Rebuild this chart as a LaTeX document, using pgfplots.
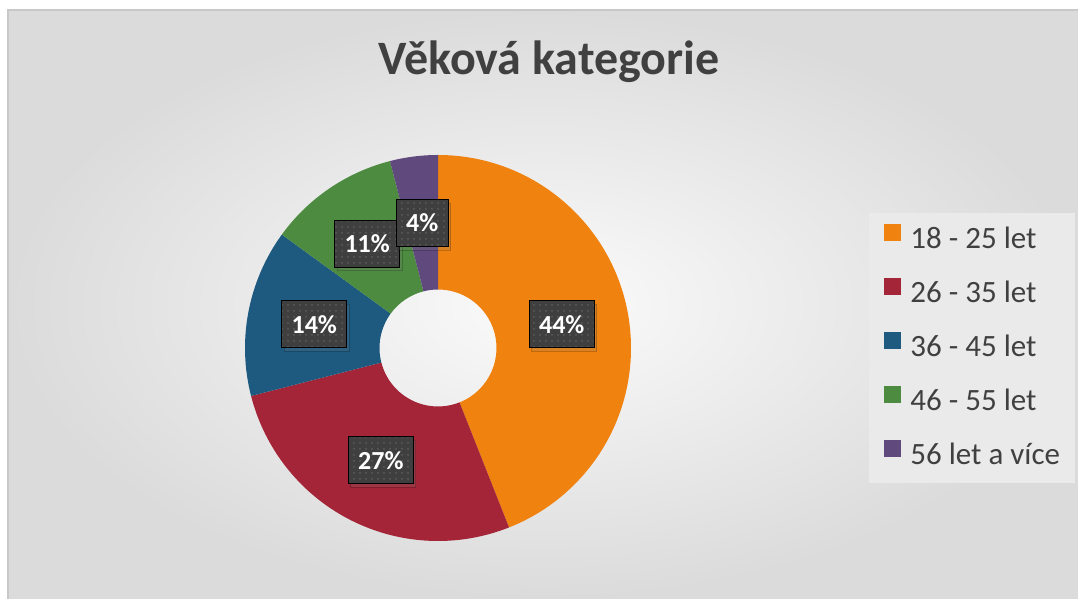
\documentclass[border=0pt]{standalone}
\usepackage{pgfplots}
\pgfplotsset{compat=1.18}
\usepackage{pgfplotstable}
\usepackage{fontspec}
\setmainfont{Carlito}
\usetikzlibrary{patterns,shadows}

\definecolor{c18}{HTML}{F0820F}
\definecolor{c26}{HTML}{A32537}
\definecolor{c36}{HTML}{1E5A80}
\definecolor{c46}{HTML}{4C8B40}
\definecolor{c56}{HTML}{604A7D}
\definecolor{txtgray}{HTML}{404040}
\definecolor{boxgray}{HTML}{3F3F3F}
\definecolor{dotgray}{HTML}{5C5C5C}
\definecolor{legbg}{HTML}{EAEAEA}
\definecolor{bgin}{HTML}{FBFBFB}
\definecolor{bgout}{HTML}{DBDBDB}
\definecolor{bordergray}{HTML}{C8C8C8}

% share of each age group (%), and where its slice starts (cumulative %)
\pgfplotstableread{
value start cls
44 0  a
27 44 b
14 71 c
11 85 d
4  96 e
}\agedata

% one ring slice, clockwise from 12 o'clock
\pgfdeclareplotmark{ring}{%
  \pgfmathsetmacro\aA{90-3.6*\pieStart}%
  \pgfmathsetmacro\aB{90-3.6*(\pieStart+\pieVal)}%
  \pgfpathmoveto{\pgfpointpolar{\aA}{96.5pt}}%
  \pgfpatharc{\aA}{\aB}{96.5pt}%
  \pgfpathlineto{\pgfpointpolar{\aB}{29.25pt}}%
  \pgfpatharc{\aB}{\aA}{29.25pt}%
  \pgfpathclose
  \pgfusepathqfill
}
% the percentage box in the middle of a slice
\pgfdeclareplotmark{ringlabel}{%
  \pgfmathsetmacro\aM{90-3.6*(\pieStart+0.5*\pieVal)}%
  \pgfmathtruncatemacro\pct{round(\pieVal)}%
  \node[lbl] at (\aM:63pt) {\pct\%};%
}

\tikzset{lbl/.style={fill=boxgray, text=white, inner xsep=5pt, inner ysep=0pt,
  minimum height=23.5pt,
  font=\bfseries\fontsize{13pt}{15pt}\selectfont,
  drop shadow={shadow xshift=1.2pt, shadow yshift=-1.8pt, opacity=0.2},
  postaction={pattern=dots, pattern color=dotgray}}}

\begin{document}
\begin{tikzpicture}
\begin{axis}[
  width=539pt, height=299.5pt, scale only axis,
  xmin=0, xmax=1078, ymin=0, ymax=599,
  hide axis,
  legend image code/.code={\fill[#1, draw=none] (0pt,-0.5pt) rectangle (8.5pt,8pt);},
  legend cell align=left,
  legend style={at={(axis description cs:0.8061,0.6444)}, anchor=north west,
    draw=none, fill=legbg, inner xsep=7.5pt, inner ysep=0pt,
    font=\fontsize{15.5pt}{18pt}\selectfont, text=txtgray,
    nodes={inner sep=0pt, text height=17.5pt, text depth=9.5pt},
    row sep=0pt, column sep=4.5pt},
]
\fill[white] (axis cs:0,0) rectangle (axis cs:1078,599);
\shade[inner color=bgin, outer color=bgout] (axis cs:8,0) rectangle (axis cs:1078,589);
\draw[bordergray, line width=1pt] (axis cs:8,0) -- (axis cs:8,589) -- (axis cs:1078,589);
\node[anchor=base, text=txtgray, font=\bfseries\fontsize{24pt}{28pt}\selectfont]
  at (axis cs:549,524) {Věková kategorie};

\addplot[forget plot, scatter, only marks, mark=ring,
  point meta=explicit symbolic,
  scatter/classes={a={fill=c18},b={fill=c26},c={fill=c36},d={fill=c46},e={fill=c56}},
  visualization depends on={\thisrow{start}\as\pieStart},
  visualization depends on={\thisrow{value}\as\pieVal},
] table[x expr=438, y expr=251, meta=cls] {\agedata};

\addplot[forget plot, scatter, only marks, mark=ringlabel,
  point meta=explicit symbolic,
  scatter/classes={a={},b={},c={},d={},e={}},
  visualization depends on={\thisrow{start}\as\pieStart},
  visualization depends on={\thisrow{value}\as\pieVal},
] table[x expr=438, y expr=251, meta=cls] {\agedata};

\addlegendimage{fill=c18}\addlegendentry{18 - 25 let}
\addlegendimage{fill=c26}\addlegendentry{26 - 35 let}
\addlegendimage{fill=c36}\addlegendentry{36 - 45 let}
\addlegendimage{fill=c46}\addlegendentry{46 - 55 let}
\addlegendimage{fill=c56}\addlegendentry{56 let a více}
\end{axis}
\end{tikzpicture}
\end{document}
